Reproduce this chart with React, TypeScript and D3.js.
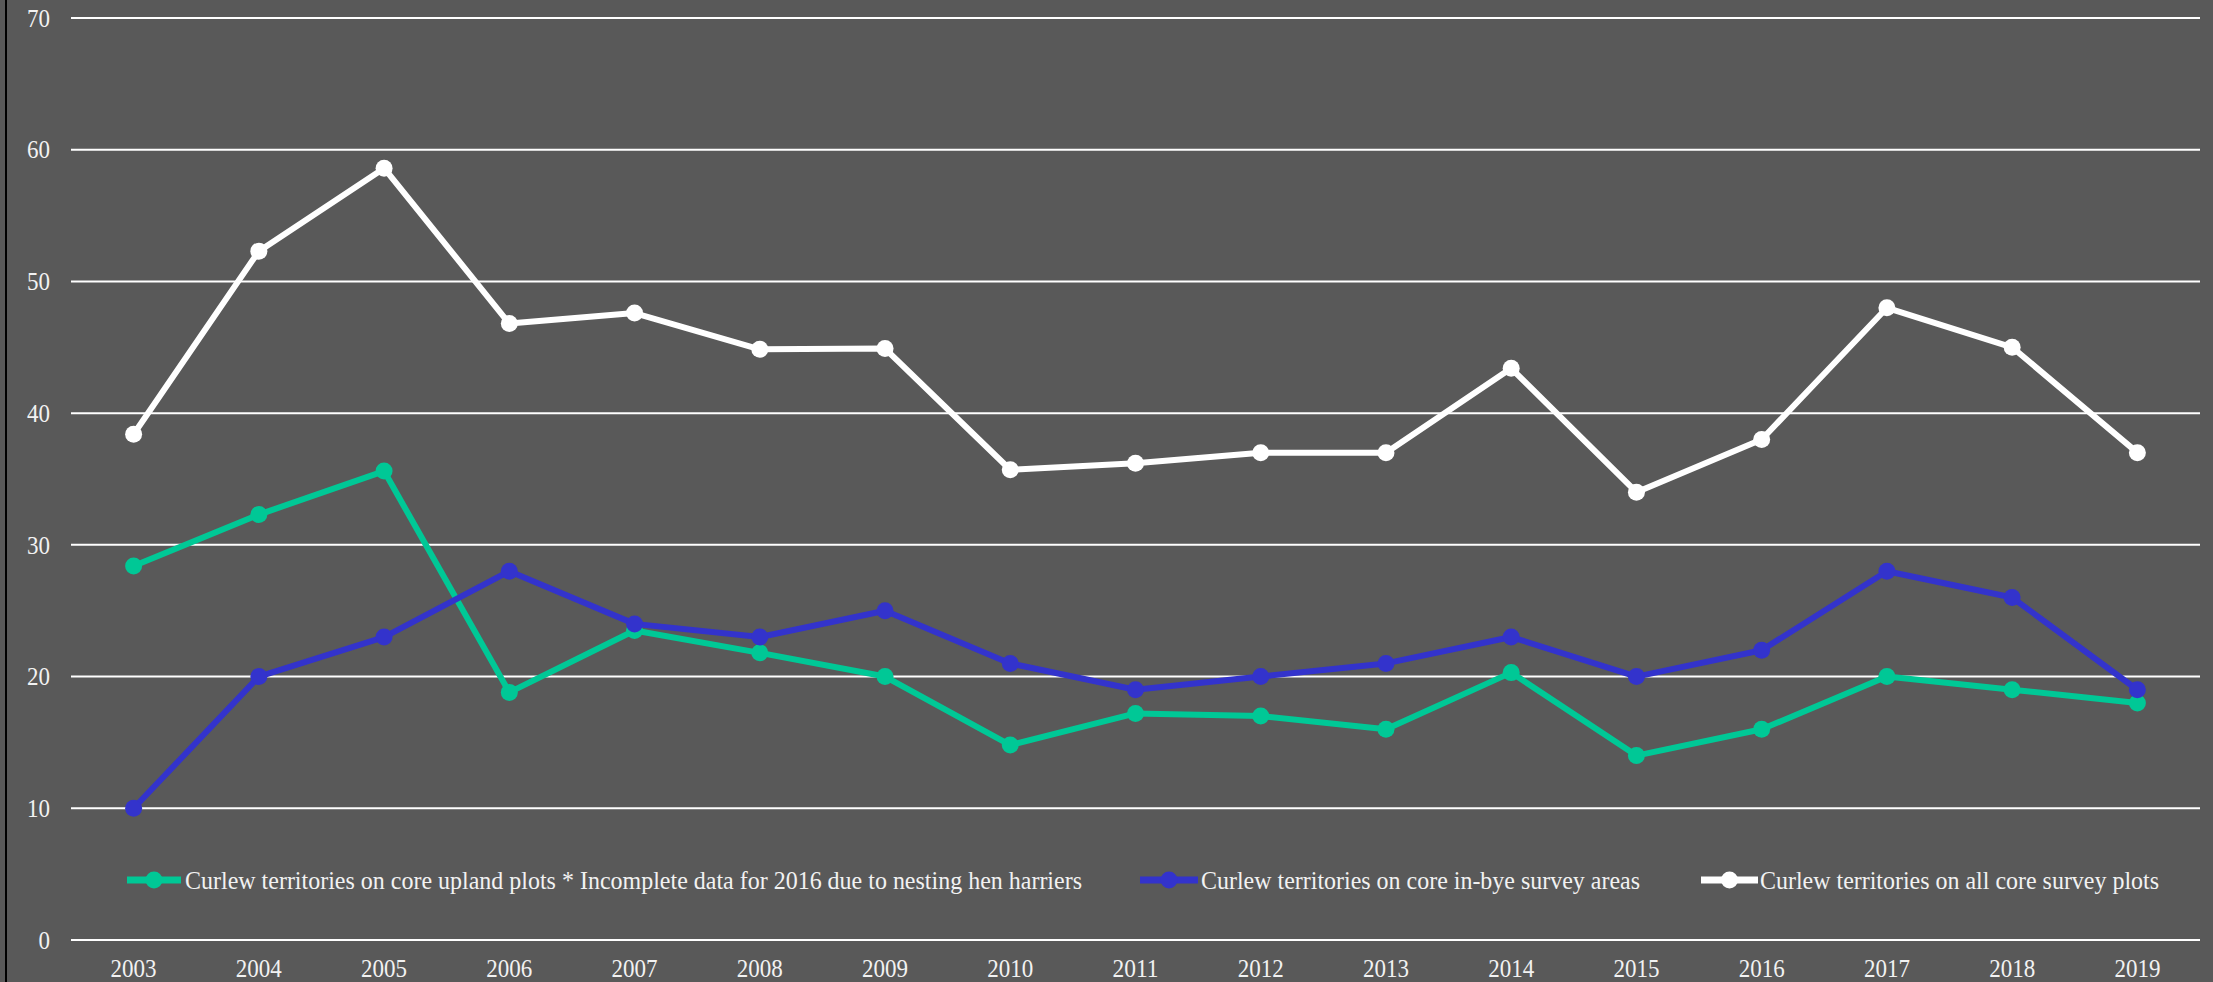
import React from "react";
import * as d3 from "d3";

const years = ["2003","2004","2005","2006","2007","2008","2009","2010","2011","2012","2013","2014","2015","2016","2017","2018","2019"];
const uplandPlots = [28.4,32.3,35.6,18.8,23.5,21.8,20,14.8,17.2,17,16,20.3,14,16,20,19,18];
const inByeAreas = [10,20,23,28,24,23,25,21,19,20,21,23,20,22,28,26,19];
const allCorePlots = [38.4,52.3,58.6,46.8,47.6,44.85,44.9,35.7,36.2,37,37,43.4,34,38,48,45,37];
const yTicks = [0,10,20,30,40,50,60,70];

const seriesNames = [
  "Curlew territories on core upland plots * Incomplete data for 2016 due to nesting hen harriers",
  "Curlew territories on core in-bye survey areas",
  "Curlew territories on all core survey plots",
];
const seriesColors = ["#00C896", "#3333CC", "#FFFFFF"];
const seriesData = [uplandPlots, inByeAreas, allCorePlots];

const W = 2213, H = 982;
const FONT = "'Liberation Serif', 'Times New Roman', serif";

export default function App() {
  const x = d3.scaleBand<string>().domain(years).range([71, 2200]).padding(0);
  const y = d3.scaleLinear().domain([0, 70]).range([940, 18]);
  const cx = (yr: string) => (x(yr) as number) + x.bandwidth() / 2;
  const line = d3.line<number>().x((_, i) => cx(years[i])).y((d) => y(d));

  const legend = [
    { x1: 127, x2: 181, tx: 185, tw: 897 },
    { x1: 1140, x2: 1198, tx: 1201, tw: 439 },
    { x1: 1701, x2: 1758, tx: 1760, tw: 399 },
  ];
  const legY = 880;

  return (
    <svg width={W} height={H} style={{ position: "fixed", left: 0, top: 0, display: "block" }}>
      <rect x={0} y={0} width={W} height={H} fill="#595959" />
      <line x1={6} x2={6} y1={0} y2={H} stroke="#000" strokeWidth={2} />
      {yTicks.map((t) => (
        <g key={t}>
          <line x1={71} x2={2200} y1={y(t)} y2={y(t)} stroke="#FFFFFF" strokeWidth={2} />
          <text x={50} y={y(t)} dy="0.35em" textAnchor="end" fill="#F2F2F2" fontSize={25} fontFamily={FONT}
            textLength={t === 0 ? 11.5 : 23} lengthAdjust="spacingAndGlyphs">{t}</text>
        </g>
      ))}
      {years.map((yr) => (
        <text key={yr} x={cx(yr)} y={977} textAnchor="middle" fill="#F2F2F2" fontSize={26} fontFamily={FONT}
          textLength={46} lengthAdjust="spacingAndGlyphs">{yr}</text>
      ))}
      {seriesData.map((data, si) => (
        <g key={si}>
          <path d={line(data) || ""} fill="none" stroke={seriesColors[si]} strokeWidth={6} strokeLinejoin="round" />
          {data.map((v, i) => (
            <circle key={i} cx={cx(years[i])} cy={y(v)} r={8.5} fill={seriesColors[si]} />
          ))}
        </g>
      ))}
      {legend.map((l, i) => (
        <g key={i}>
          <line x1={l.x1} x2={l.x2} y1={legY} y2={legY} stroke={seriesColors[i]} strokeWidth={7} />
          <circle cx={(l.x1 + l.x2) / 2} cy={legY} r={8.5} fill={seriesColors[i]} />
          <text x={l.tx} y={legY} dy="0.33em" fill="#F2F2F2" fontSize={26} fontFamily={FONT}
            textLength={l.tw} lengthAdjust="spacingAndGlyphs">{seriesNames[i]}</text>
        </g>
      ))}
    </svg>
  );
}
